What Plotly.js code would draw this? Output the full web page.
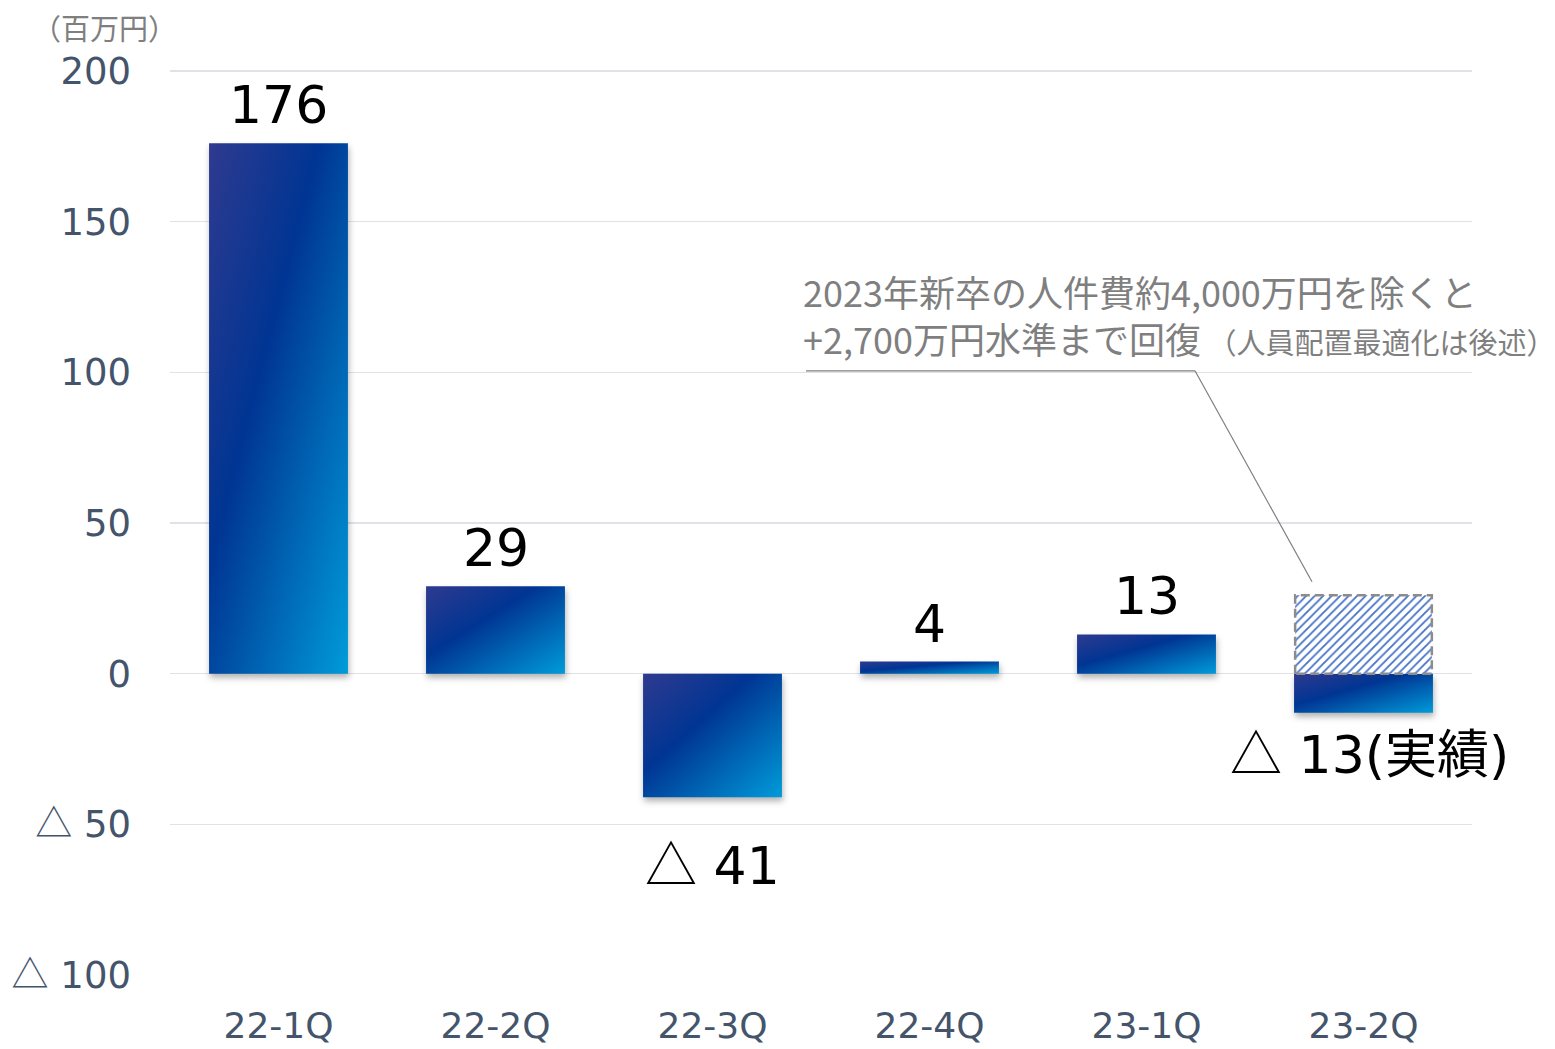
<!DOCTYPE html>
<html>
<head>
<meta charset="utf-8">
<script src="https://cdn.plot.ly/plotly-3.0.1.min.js"></script>
<style>
html,body{margin:0;padding:0;background:#fff;}
#chart{width:1555px;height:1049px;}
</style>
</head>
<body>
<div id="chart"></div>
<script>
// ---- data ----
const quarters = ['22-1Q','22-2Q','22-3Q','22-4Q','23-1Q','23-2Q'];
const profit = [176, 29, -41, 4, 13, -13];
const adjusted = [null, null, null, null, null, 26];
const valueLabels = ['176','29','△ 41','4','13','△ 13(実績)'];
const yTickVals = [-100, -50, 0, 50, 100, 150, 200];
const yTickText = ['△ 100','△ 50','0','50','100','150','200'];
const unitLabel = '（百万円）';
const noteLine1 = '2023年新卒の人件費約4,000万円を除くと';
const noteLine2 = '+2,700万円水準まで回復';
const noteLine2Small = '（人員配置最適化は後述）';

const FONT = 'DejaVu Sans, Verdana, Noto Sans CJK JP, sans-serif';
const JFONT = 'Noto Sans CJK JP, DejaVu Sans, sans-serif';
const tri = (s) => s.replace('△', '<span style="font-family:Noto Sans CJK JP">△</span>');

const traces = [
  {
    type: 'bar', x: quarters, y: profit, width: 0.64,
    marker: {color: '#0a3a95', line: {width: 0}},
    hoverinfo: 'skip', showlegend: false
  },
  {
    type: 'bar', x: quarters, y: adjusted, width: 0.63,
    marker: {
      color: '#ffffff',
      line: {color: '#8c8c8c', width: 2.5},
      pattern: {shape: '/', fgcolor: '#4472c4', bgcolor: '#ffffff', size: 6, solidity: 0.3}
    },
    hoverinfo: 'skip', showlegend: false
  }
];

const annotations = profit.map((v, i) => ({
  x: quarters[i], y: v, xref: 'x', yref: 'y',
  text: tri(valueLabels[i]), showarrow: false,
  font: {family: FONT, size: 52, color: '#000000'},
  yanchor: v >= 0 ? 'bottom' : 'top',
  yshift: v >= 0 ? 6 : (i === 5 ? 2 : -25),
  xshift: i === 5 ? 6 : 0
}));
annotations.push({
  xref: 'paper', yref: 'paper', x: -0.05, y: 1.046, xanchor: 'center', yanchor: 'middle',
  text: unitLabel, showarrow: false,
  font: {family: JFONT, size: 29, color: '#7f7f7f'}
});
annotations.push({
  xref: 'paper', yref: 'y', x: 0.485, y: 102, xanchor: 'left', yanchor: 'bottom',
  align: 'left', showarrow: false,
  text: noteLine1 + '<br>' + noteLine2 + '<span style="font-size:29px"> ' + noteLine2Small + '</span>',
  font: {family: JFONT, size: 36, color: '#7f7f7f'}
});

const xr = (px) => (px - 170) / 1302;

const layout = {
  width: 1555, height: 1049,
  margin: {l: 170, r: 83, t: 69, b: 74},
  paper_bgcolor: '#ffffff', plot_bgcolor: '#ffffff',
  barmode: 'overlay',
  xaxis: {
    type: 'category', range: [-0.5, 5.5], autorange: false,
    showgrid: false, zeroline: false, showline: false,
    tickfont: {family: FONT, size: 36, color: '#44546a'},
    ticks: '', ticklabelstandoff: 26, fixedrange: true
  },
  yaxis: {
    range: [-100, 200.66], autorange: false, tickvals: yTickVals, ticktext: yTickText.map(tri),
    showgrid: true, gridcolor: '#dfe3e8', gridwidth: 1.5,
    zeroline: true, zerolinecolor: '#dfe3e8', zerolinewidth: 1.5,
    showline: false, ticks: '',
    tickfont: {family: FONT, size: 37, color: '#44546a'},
    ticklabelstandoff: 38, fixedrange: true
  },
  shapes: [
    {type: 'line', xref: 'paper', yref: 'y', x0: xr(806), x1: xr(1195), y0: 100.5, y1: 100.5, line: {color: '#7f7f7f', width: 1.2}},
    {type: 'line', xref: 'paper', yref: 'y', x0: xr(1195), x1: xr(1312), y0: 100.5, y1: 30.5, line: {color: '#7f7f7f', width: 1.2}}
  ],
  annotations: annotations,
  font: {family: FONT}
};

Plotly.newPlot('chart', traces, layout, {staticPlot: true}).then(() => {
  const svg = document.querySelector('#chart svg.main-svg');
  const ns = 'http://www.w3.org/2000/svg';
  let defs = svg.querySelector('defs');
  if (!defs) { defs = document.createElementNS(ns, 'defs'); svg.insertBefore(defs, svg.firstChild); }
  const grad = document.createElementNS(ns, 'linearGradient');
  grad.setAttribute('id', 'barGrad');
  grad.setAttribute('x1', '0'); grad.setAttribute('y1', '0');
  grad.setAttribute('x2', '1'); grad.setAttribute('y2', '1');
  [['0', '#2f3a8f'], ['0.4', '#003593'], ['1', '#009bd9']].forEach(([o, c]) => {
    const s = document.createElementNS(ns, 'stop');
    s.setAttribute('offset', o); s.setAttribute('stop-color', c);
    grad.appendChild(s);
  });
  defs.appendChild(grad);
  const traceGroups = svg.querySelectorAll('.barlayer .trace');
  if (traceGroups[0]) {
    traceGroups[0].querySelectorAll('path').forEach(p => {
      p.style.fill = 'url(#barGrad)';
      p.style.fillOpacity = 1;
      p.style.filter = 'drop-shadow(1px 4px 3px rgba(0,0,0,0.3))';
    });
  }
  if (traceGroups[1]) {
    traceGroups[1].querySelectorAll('path').forEach(p => {
      p.style.strokeDasharray = '9,5';
    });
  }
});
</script>
</body>
</html>
